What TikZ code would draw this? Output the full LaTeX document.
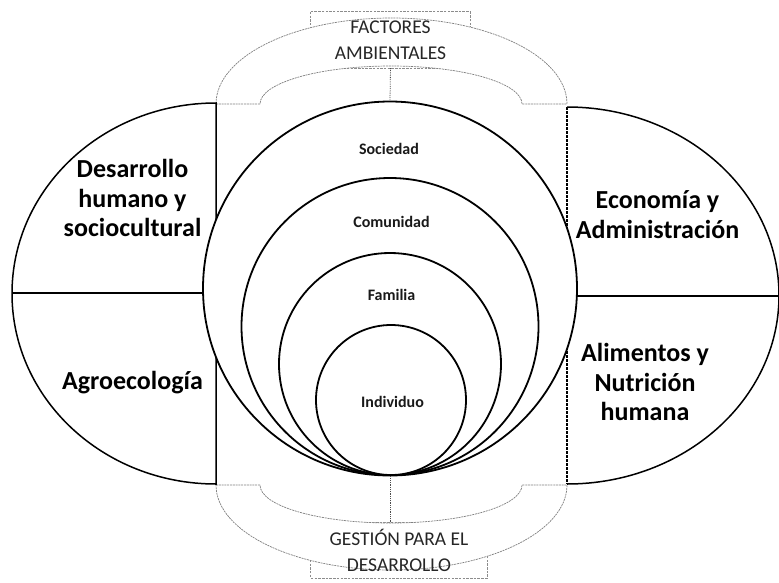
\documentclass[tikz,border=0pt]{standalone}
\usepackage{fontspec}
\setmainfont{Carlito}
\usetikzlibrary{backgrounds}
\tikzset{
    ring/.style={draw, circle, line width=1.8pt, fill=white, inner sep=0pt},
    half/.style={draw, line width=1.5pt},
    band/.style={draw=black!50, line width=0.7pt, dash pattern=on 2pt off 0.8pt, fill=white},
    boxline/.style={draw=black!45, line width=0.7pt, dash pattern=on 2.5pt off 1.2pt},
    link/.style={draw=black!70, line width=0.8pt, densely dotted},
    areatext/.style={align=center, font=\fontsize{26}{29.5}\selectfont\bfseries},
    ringtext/.style={text=black!90, font=\fontsize{16}{19}\selectfont\bfseries},
    boxtext/.style={align=center, text=black!85, inner sep=0pt, font=\fontsize{19.5}{26}\selectfont}
}

\begin{document}
\begin{tikzpicture}[x=1pt, y=-1pt]
    \useasboundingbox (0,0) rectangle (779,582);

    % the four areas
    \draw[half] (216,103) arc[start angle=270, end angle=90, x radius=204, y radius=190.5] -- cycle;
    \draw[half] (12,293) -- (216,293);

    \draw[half] (567,107) arc[start angle=270, end angle=450, x radius=212, y radius=188.5];
    \draw[half, dash pattern=on 3pt off 1pt] (567,107) -- (567,484);
    \draw[half] (567,296) -- (779,296);

    % nested circles
    \node[ring, minimum size=374pt] (soc) at (390,288.5) {};
    \node[ring, minimum size=297pt] (com) at (390,326.5) {};
    \node[ring, minimum size=222pt] (fam) at (390,364) {};
    \node[ring, minimum size=150pt] (ind) at (391,400) {};

    \node[ringtext] (tsoc) at (389,148.5) {Sociedad};
    \node[ringtext] (tcom) at (391.5,221.5) {Comunidad};
    \node[ringtext] (tfam) at (391.5,294.5) {Familia};
    \node[ringtext] (tind) at (392.5,401.5) {Individuo};

    \node[areatext] (desa) at (132.5,198) {Desarrollo\\humano y\\sociocultural};
    \node[areatext] (agro) at (132.5,382.5) {Agroecología};
    \node[areatext] (econ) at (657.5,214.5) {Economía y\\Administración};
    \node[areatext] (alim) at (645,382) {Alimentos y\\Nutrición\\humana};

    % top and bottom bands
    \node[boxtext, minimum width=159pt, minimum height=56pt] (fa) at (390.5,40) {FACTORES\\AMBIENTALES};
    \node[boxtext, minimum width=176pt, minimum height=55pt] (gd) at (399,550.5) {GESTIÓN PARA EL\\DESARROLLO};

    \begin{scope}[on background layer]
        \fill[white] (0,0) rectangle (779,582);
        \draw[boxline] (fa.north west) rectangle (fa.south east);
        \draw[boxline] (gd.north west) rectangle (gd.south east);
        \draw[band] (216,104) -- (260,104) arc[start angle=180, end angle=360, x radius=131, y radius=38]
            -- (567,104) arc[start angle=0, end angle=-180, x radius=175.5, y radius=86] -- cycle;
        \draw[band] (216,485) -- (260,485) arc[start angle=180, end angle=0, x radius=131, y radius=38]
            -- (567,485) arc[start angle=0, end angle=180, x radius=175.5, y radius=85] -- cycle;
    \end{scope}

    \draw[link] (fa.south) -- (soc.north);
    \draw[link] (soc.south) -- (soc.south |- gd.north);

\end{tikzpicture}
\end{document}
